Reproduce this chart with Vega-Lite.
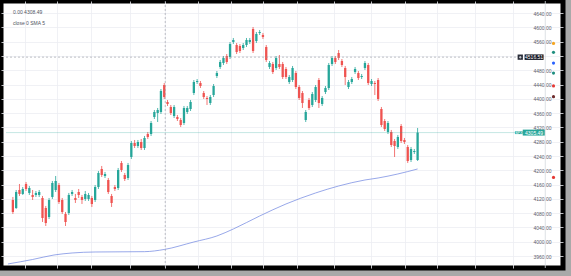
{
  "$schema": "https://vega.github.io/schema/vega-lite/v6.json",
  "width": 562,
  "height": 267,
  "autosize": {"type": "none"},
  "padding": {"left": 1, "top": 1, "right": 8, "bottom": 8},
  "background": "#a9a9a9",
  "view": {"fill": "white", "stroke": "black", "strokeWidth": 5},
  "config": {
    "font": "Liberation Sans",
    "axisX": {"labels": false, "ticks": false, "domain": false, "grid": true, "gridColor": "#eceef3", "gridWidth": 0.8, "title": null},
    "axisY": {"labelFontSize": 5, "labelColor": "#5d606b", "labelAlign": "left", "labelPadding": 0, "labelOverlap": false, "labelSeparation": 0, "ticks": false, "domain": false, "grid": true, "gridColor": "#eceef3", "gridWidth": 0.8, "title": null}
  },
  "title": {
    "text": "0.00   4308.49",
    "subtitle": "close 0 SMA 5",
    "anchor": "start",
    "orient": "top",
    "frame": "group",
    "offset": -25,
    "dx": 12,
    "fontSize": 5,
    "fontWeight": "normal",
    "color": "#50535e",
    "subtitleFontSize": 5,
    "subtitleColor": "#50535e",
    "subtitlePadding": 6
  },
  "datasets": {
    "candles": [
      {"t":0,"o":4117.0,"h":4125.4,"l":4077.8,"c":4083.4},
      {"t":1,"o":4094.6,"h":4144.9,"l":4091.8,"c":4139.3},
      {"t":2,"o":4144.9,"h":4161.7,"l":4128.2,"c":4133.8},
      {"t":3,"o":4133.8,"h":4153.3,"l":4131.0,"c":4147.7},
      {"t":4,"o":4161.7,"h":4167.3,"l":4142.1,"c":4147.7},
      {"t":5,"o":4136.6,"h":4156.1,"l":4131.0,"c":4150.5},
      {"t":6,"o":4131.0,"h":4144.9,"l":4117.0,"c":4125.4},
      {"t":7,"o":4131.0,"h":4142.1,"l":4125.4,"c":4136.6},
      {"t":8,"o":4131.0,"h":4144.9,"l":4125.4,"c":4139.3},
      {"t":9,"o":4122.6,"h":4128.2,"l":4055.4,"c":4066.6},
      {"t":10,"o":4094.6,"h":4100.2,"l":4044.2,"c":4052.6},
      {"t":11,"o":4069.4,"h":4122.6,"l":4063.8,"c":4117.0},
      {"t":12,"o":4125.4,"h":4170.1,"l":4119.8,"c":4164.5},
      {"t":13,"o":4144.9,"h":4184.1,"l":4139.3,"c":4170.1},
      {"t":14,"o":4158.9,"h":4164.5,"l":4105.8,"c":4111.4},
      {"t":15,"o":4117.0,"h":4122.6,"l":4077.8,"c":4083.4},
      {"t":16,"o":4077.8,"h":4083.4,"l":4044.2,"c":4055.4},
      {"t":17,"o":4080.6,"h":4136.6,"l":4075.0,"c":4131.0},
      {"t":18,"o":4133.8,"h":4144.9,"l":4128.2,"c":4139.3},
      {"t":19,"o":4122.6,"h":4133.8,"l":4108.6,"c":4117.0},
      {"t":20,"o":4139.3,"h":4147.7,"l":4122.6,"c":4131.0},
      {"t":21,"o":4125.4,"h":4131.0,"l":4105.8,"c":4117.0},
      {"t":22,"o":4119.8,"h":4142.1,"l":4114.2,"c":4133.8},
      {"t":23,"o":4119.8,"h":4136.6,"l":4114.2,"c":4131.0},
      {"t":24,"o":4122.6,"h":4128.2,"l":4097.4,"c":4105.8},
      {"t":25,"o":4117.0,"h":4158.9,"l":4111.4,"c":4153.3},
      {"t":26,"o":4153.3,"h":4198.1,"l":4147.7,"c":4192.5},
      {"t":27,"o":4203.7,"h":4212.1,"l":4181.3,"c":4186.9},
      {"t":28,"o":4184.1,"h":4195.3,"l":4178.5,"c":4189.7},
      {"t":29,"o":4172.9,"h":4178.5,"l":4133.8,"c":4139.3},
      {"t":30,"o":4128.2,"h":4133.8,"l":4097.4,"c":4108.6},
      {"t":31,"o":4153.3,"h":4158.9,"l":4142.1,"c":4147.7},
      {"t":32,"o":4150.5,"h":4206.5,"l":4144.9,"c":4200.9},
      {"t":33,"o":4220.5,"h":4226.0,"l":4195.3,"c":4200.9},
      {"t":34,"o":4186.9,"h":4192.5,"l":4170.1,"c":4175.7},
      {"t":35,"o":4178.5,"h":4220.5,"l":4172.9,"c":4214.9},
      {"t":36,"o":4237.2,"h":4282.0,"l":4231.6,"c":4276.4},
      {"t":37,"o":4276.4,"h":4284.8,"l":4262.4,"c":4268.0},
      {"t":38,"o":4268.0,"h":4284.8,"l":4262.4,"c":4279.2},
      {"t":39,"o":4279.2,"h":4287.6,"l":4256.8,"c":4262.4},
      {"t":40,"o":4262.4,"h":4296.0,"l":4256.8,"c":4290.4},
      {"t":41,"o":4301.6,"h":4307.2,"l":4287.6,"c":4293.2},
      {"t":42,"o":4301.6,"h":4337.9,"l":4296.0,"c":4332.3},
      {"t":43,"o":4349.1,"h":4368.7,"l":4343.5,"c":4363.1},
      {"t":44,"o":4360.3,"h":4374.3,"l":4335.1,"c":4368.7},
      {"t":45,"o":4363.1,"h":4427.4,"l":4357.5,"c":4421.8},
      {"t":46,"o":4438.6,"h":4444.2,"l":4399.5,"c":4405.0},
      {"t":47,"o":4391.1,"h":4396.7,"l":4379.9,"c":4385.5},
      {"t":48,"o":4377.1,"h":4382.7,"l":4354.7,"c":4360.3},
      {"t":49,"o":4351.9,"h":4382.7,"l":4346.3,"c":4377.1},
      {"t":50,"o":4349.1,"h":4354.7,"l":4337.9,"c":4343.5},
      {"t":51,"o":4340.7,"h":4346.3,"l":4321.2,"c":4326.7},
      {"t":52,"o":4332.3,"h":4379.9,"l":4326.7,"c":4374.3},
      {"t":53,"o":4363.1,"h":4379.9,"l":4357.5,"c":4374.3},
      {"t":54,"o":4371.5,"h":4396.7,"l":4365.9,"c":4391.1},
      {"t":55,"o":4416.2,"h":4452.6,"l":4410.6,"c":4447.0},
      {"t":56,"o":4447.0,"h":4455.4,"l":4441.4,"c":4449.8},
      {"t":57,"o":4444.2,"h":4449.8,"l":4430.2,"c":4435.8},
      {"t":58,"o":4416.2,"h":4421.8,"l":4399.5,"c":4405.0},
      {"t":59,"o":4402.3,"h":4407.8,"l":4382.7,"c":4399.5},
      {"t":60,"o":4388.3,"h":4410.6,"l":4382.7,"c":4405.0},
      {"t":61,"o":4410.6,"h":4441.4,"l":4405.0,"c":4435.8},
      {"t":62,"o":4463.8,"h":4477.8,"l":4458.2,"c":4472.2},
      {"t":63,"o":4489.0,"h":4508.5,"l":4483.4,"c":4503.0},
      {"t":64,"o":4500.2,"h":4519.7,"l":4494.6,"c":4514.1},
      {"t":65,"o":4519.7,"h":4525.3,"l":4497.4,"c":4503.0},
      {"t":66,"o":4516.9,"h":4558.9,"l":4511.3,"c":4553.3},
      {"t":67,"o":4558.9,"h":4570.1,"l":4553.3,"c":4564.5},
      {"t":68,"o":4550.5,"h":4556.1,"l":4525.3,"c":4530.9},
      {"t":69,"o":4547.7,"h":4553.3,"l":4528.1,"c":4533.7},
      {"t":70,"o":4542.1,"h":4556.1,"l":4536.5,"c":4550.5},
      {"t":71,"o":4550.5,"h":4570.1,"l":4544.9,"c":4564.5},
      {"t":72,"o":4558.9,"h":4570.1,"l":4553.3,"c":4564.5},
      {"t":73,"o":4595.2,"h":4600.8,"l":4528.1,"c":4533.7},
      {"t":74,"o":4561.7,"h":4586.9,"l":4556.1,"c":4581.3},
      {"t":75,"o":4584.1,"h":4592.4,"l":4578.5,"c":4586.9},
      {"t":76,"o":4578.5,"h":4584.1,"l":4567.3,"c":4572.9},
      {"t":77,"o":4544.9,"h":4550.5,"l":4503.0,"c":4508.5},
      {"t":78,"o":4489.0,"h":4505.7,"l":4483.4,"c":4500.2},
      {"t":79,"o":4497.4,"h":4503.0,"l":4469.4,"c":4475.0},
      {"t":80,"o":4486.2,"h":4519.7,"l":4480.6,"c":4514.1},
      {"t":81,"o":4497.4,"h":4522.5,"l":4483.4,"c":4489.0},
      {"t":82,"o":4497.4,"h":4503.0,"l":4455.4,"c":4461.0},
      {"t":83,"o":4483.4,"h":4489.0,"l":4455.4,"c":4461.0},
      {"t":84,"o":4447.0,"h":4466.6,"l":4441.4,"c":4461.0},
      {"t":85,"o":4452.6,"h":4491.8,"l":4447.0,"c":4486.2},
      {"t":86,"o":4472.2,"h":4477.8,"l":4427.4,"c":4433.0},
      {"t":87,"o":4433.0,"h":4438.6,"l":4396.7,"c":4402.3},
      {"t":88,"o":4416.2,"h":4421.8,"l":4374.3,"c":4388.3},
      {"t":89,"o":4340.7,"h":4368.7,"l":4335.1,"c":4363.1},
      {"t":90,"o":4396.7,"h":4402.3,"l":4368.7,"c":4374.3},
      {"t":91,"o":4382.7,"h":4419.0,"l":4377.1,"c":4413.4},
      {"t":92,"o":4396.7,"h":4438.6,"l":4391.1,"c":4433.0},
      {"t":93,"o":4452.6,"h":4458.2,"l":4374.3,"c":4388.3},
      {"t":94,"o":4385.5,"h":4407.8,"l":4379.9,"c":4402.3},
      {"t":95,"o":4419.0,"h":4435.8,"l":4413.4,"c":4430.2},
      {"t":96,"o":4430.2,"h":4500.2,"l":4424.6,"c":4494.6},
      {"t":97,"o":4497.4,"h":4519.7,"l":4491.8,"c":4514.1},
      {"t":98,"o":4514.1,"h":4519.7,"l":4497.4,"c":4503.0},
      {"t":99,"o":4528.1,"h":4536.5,"l":4508.5,"c":4514.1},
      {"t":100,"o":4505.7,"h":4511.3,"l":4489.0,"c":4494.6},
      {"t":101,"o":4486.2,"h":4491.8,"l":4438.6,"c":4461.0},
      {"t":102,"o":4433.0,"h":4452.6,"l":4427.4,"c":4447.0},
      {"t":103,"o":4447.0,"h":4461.0,"l":4441.4,"c":4455.4},
      {"t":104,"o":4475.0,"h":4489.0,"l":4469.4,"c":4483.4},
      {"t":105,"o":4472.2,"h":4477.8,"l":4452.6,"c":4458.2},
      {"t":106,"o":4461.0,"h":4469.4,"l":4455.4,"c":4463.8},
      {"t":107,"o":4486.2,"h":4505.7,"l":4480.6,"c":4500.2},
      {"t":108,"o":4494.6,"h":4500.2,"l":4438.6,"c":4444.2},
      {"t":109,"o":4441.4,"h":4455.4,"l":4435.8,"c":4449.8},
      {"t":110,"o":4444.2,"h":4449.8,"l":4410.6,"c":4441.4},
      {"t":111,"o":4452.6,"h":4458.2,"l":4393.9,"c":4399.5},
      {"t":112,"o":4371.5,"h":4377.1,"l":4321.2,"c":4326.7},
      {"t":113,"o":4337.9,"h":4343.5,"l":4310.0,"c":4315.6},
      {"t":114,"o":4307.2,"h":4337.9,"l":4301.6,"c":4332.3},
      {"t":115,"o":4307.2,"h":4312.8,"l":4265.2,"c":4270.8},
      {"t":116,"o":4282.0,"h":4287.6,"l":4237.2,"c":4268.0},
      {"t":117,"o":4265.2,"h":4298.8,"l":4259.6,"c":4293.2},
      {"t":118,"o":4323.9,"h":4329.5,"l":4276.4,"c":4282.0},
      {"t":119,"o":4284.8,"h":4290.4,"l":4273.6,"c":4279.2},
      {"t":120,"o":4265.2,"h":4270.8,"l":4220.5,"c":4226.0},
      {"t":121,"o":4228.8,"h":4265.2,"l":4223.2,"c":4259.6},
      {"t":122,"o":4251.2,"h":4259.6,"l":4245.6,"c":4254.0},
      {"t":123,"o":4228.8,"h":4318.4,"l":4226.0,"c":4305.49}
    ],
    "sma": [
      {"t":-1.5,"v":3938.0},
      {"t":6,"v":3950.5},
      {"t":12.5,"v":3963.1},
      {"t":18,"v":3968.7},
      {"t":25,"v":3971.5},
      {"t":40,"v":3972.4},
      {"t":46,"v":3978.5},
      {"t":55,"v":3999.5},
      {"t":62,"v":4016.3},
      {"t":67,"v":4035.8},
      {"t":75,"v":4072.2},
      {"t":83,"v":4105.8},
      {"t":92,"v":4136.6},
      {"t":99,"v":4156.1},
      {"t":107,"v":4172.9},
      {"t":111,"v":4178.5},
      {"t":117,"v":4189.7},
      {"t":123,"v":4203.7}
    ],
    "icons": [
      {"p": 4555, "k": "a"},
      {"p": 4530, "k": "b"},
      {"p": 4500, "k": "c"},
      {"p": 4472, "k": "d"},
      {"p": 4436, "k": "e"},
      {"p": 4406, "k": "f"},
      {"p": 4180, "k": "e"}
    ]
  },
  "encoding": {
    "x": {"type": "quantitative", "scale": {"domain": [-2.09, 165.67], "nice": false, "zero": false},
      "axis": {"orient": "bottom", "values": [3.6, 13.4, 23.6, 35.5, 46.3, 56.4, 66.3, 76.1, 86.3, 97.6, 108.9, 119.1, 128.9, 140.4, 152.0], "title": null}},
    "y": {"type": "quantitative", "scale": {"domain": [3926.7, 4673.6], "nice": false, "zero": false},
      "axis": {"orient": "right", "offset": -30, "values": [3960, 4000, 4040, 4080, 4120, 4160, 4200, 4240, 4280, 4320, 4360, 4400, 4440, 4480, 4520, 4560, 4600, 4640], "format": ".2f", "labelExpr": "datum.value == 4520 ? '' : datum.label", "labelOverlap": false, "title": null}}
  },
  "layer": [
    {
      "data": {"name": "candles"},
      "mark": {"type": "rule", "strokeWidth": 0.8},
      "encoding": {
        "x": {"field": "t"},
        "y": {"field": "l"},
        "y2": {"field": "h"},
        "color": {"condition": {"test": "datum.c >= datum.o", "value": "#26a69a"}, "value": "#ef5350"}
      }
    },
    {
      "data": {"name": "candles"},
      "mark": {"type": "bar", "size": 2.3},
      "encoding": {
        "x": {"field": "t"},
        "y": {"field": "o"},
        "y2": {"field": "c"},
        "color": {"condition": {"test": "datum.c >= datum.o", "value": "#26a69a"}, "value": "#ef5350"}
      }
    },
    {
      "data": {"name": "sma"},
      "mark": {"type": "line", "interpolate": "monotone", "strokeWidth": 0.8, "color": "#6f86e0", "opacity": 0.9},
      "encoding": {
        "x": {"field": "t"},
        "y": {"field": "v"}
      }
    },
    {
      "data": {"values": [{"p": 4305.49, "a": -2.09, "b": 153}]},
      "mark": {"type": "rule", "strokeWidth": 0.6, "color": "#26a69a", "opacity": 0.45},
      "encoding": {
        "x": {"field": "a"},
        "x2": {"field": "b"},
        "y": {"field": "p"}
      }
    },
    {
      "data": {"values": [{"p": 4516.51, "a": -2.09, "b": 153.5}]},
      "mark": {"type": "rule", "strokeWidth": 0.6, "color": "#9598a1", "strokeDash": [2, 2]},
      "encoding": {
        "x": {"field": "a"},
        "x2": {"field": "b"},
        "y": {"field": "p"}
      }
    },
    {
      "data": {"values": [{"t": 46.3}]},
      "mark": {"type": "rule", "strokeWidth": 0.6, "color": "#9598a1", "strokeDash": [2, 2]},
      "encoding": {
        "x": {"field": "t"},
        "y": null
      }
    },
    {
      "data": {"values": [{"t": 161.8}]},
      "mark": {"type": "rule", "strokeWidth": 0.8, "color": "#d6d9e0"},
      "encoding": {
        "x": {"field": "t"},
        "y": null
      }
    },
    {
      "data": {"name": "icons"},
      "mark": {"type": "point", "filled": true, "opacity": 1, "size": 10},
      "encoding": {
        "x": {"datum": 164.3},
        "y": {"field": "p"},
        "color": {"field": "k", "type": "nominal", "legend": null, "scale": {"domain": ["a", "b", "c", "d", "e", "f"], "range": ["#f5a623", "#1f8f7f", "#2962ff", "#1f8f7f", "#e53935", "#6d2a2a"]}}
      }
    },
    {
      "data": {"values": [{"p": 4516.51}]},
      "mark": {"type": "point", "filled": true, "opacity": 1, "color": "#131722", "size": 361, "shape": "M-1,-0.29H1V0.29H-1Z"},
      "encoding": {
        "x": {"datum": 158.4},
        "y": {"field": "p"}
      }
    },
    {
      "data": {"values": [{"p": 4516.51}]},
      "mark": {"type": "point", "filled": true, "opacity": 1, "color": "#2a2e39", "size": 28, "shape": "square"},
      "encoding": {
        "x": {"datum": 154.2},
        "y": {"field": "p"}
      }
    },
    {
      "data": {"values": [{"p": 4516.51}]},
      "mark": {"type": "point", "filled": true, "opacity": 1, "color": "#d1d4dc", "size": 6, "shape": "cross"},
      "encoding": {
        "x": {"datum": 154.2},
        "y": {"field": "p"}
      }
    },
    {
      "data": {"values": [{"p": 4305.49}]},
      "mark": {"type": "point", "filled": true, "opacity": 1, "color": "#26a69a", "size": 484, "shape": "M-1,-0.27H1V0.27H-1Z"},
      "encoding": {
        "x": {"datum": 158.3},
        "y": {"field": "p"}
      }
    },
    {
      "data": {"values": [{"p": 4305.49}]},
      "mark": {"type": "point", "filled": true, "opacity": 1, "color": "#26a69a", "size": 64, "shape": "M-1,-0.37H1V0.37H-1Z"},
      "encoding": {
        "x": {"datum": 153.8},
        "y": {"field": "p"}
      }
    },
    {
      "data": {"values": [{"p": 4516.51, "label": "4516.51"}, {"p": 4305.49, "label": "4305.49"}]},
      "mark": {"type": "text", "fontSize": 5, "color": "white", "align": "center", "baseline": "middle"},
      "encoding": {
        "x": {"datum": 158.4},
        "y": {"field": "p"},
        "text": {"field": "label"}
      }
    },
    {
      "data": {"values": [{"p": 4305.49, "label": "SPX"}]},
      "mark": {"type": "text", "fontSize": 4, "color": "white", "align": "center", "baseline": "middle"},
      "encoding": {
        "x": {"datum": 153.8},
        "y": {"field": "p"},
        "text": {"field": "label"}
      }
    }
  ]
}
